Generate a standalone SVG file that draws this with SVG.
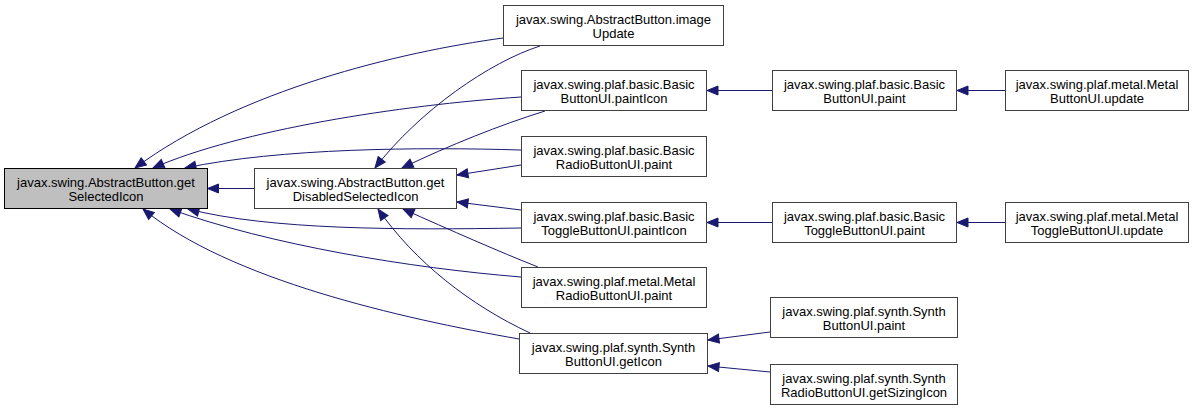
<svg xmlns="http://www.w3.org/2000/svg" width="1195" height="411" viewBox="0 0 1195 411">
<style>
.n rect{fill:#fff;stroke:#404040;stroke-width:1}
.n text{font-family:"Liberation Sans",Arial,sans-serif;font-size:13px;fill:#000;text-anchor:middle}
#A rect{fill:#bfbfbf;stroke:#000}
.e path{fill:none;stroke:#191970;stroke-width:1;marker-end:url(#ah)}
</style>
<defs>
<marker id="ah" markerUnits="userSpaceOnUse" markerWidth="13" markerHeight="11" viewBox="-1 -1 13 11" refX="11" refY="4.5" orient="auto">
<path d="M0,0 L11,4.5 L0,9 z" fill="#191970" stroke="#191970" stroke-width="1"/>
</marker>
</defs>
<g id="edges" class="e">
<path d="M254,188.5 L207.5,188.5"/>
<path d="M503,38 C400,52 240,90 135,168"/>
<path d="M521,97 C400,105 240,130 153,168"/>
<path d="M521,150 C420,147 280,148 185,168"/>
<path d="M540,46 C490,62 420,110 375,168"/>
<path d="M545,111 C500,125 450,145 402,168"/>
<path d="M521,165 L457,175"/>
<path d="M521,228 C400,230 270,230 188,209"/>
<path d="M521,210 L457,202"/>
<path d="M521,277 C410,268 270,245 170,209"/>
<path d="M538,267 C500,252 450,230 403,209"/>
<path d="M519,339 C400,318 230,280 143,209"/>
<path d="M530,333 C470,305 415,262 378,209"/>
<path d="M772,90.5 L707,90.5"/>
<path d="M1005,90.5 L957,90.5"/>
<path d="M772,222.5 L707,222.5"/>
<path d="M1005,222.5 L957,222.5"/>
<path d="M770,332 L708,340"/>
<path d="M770,372 L708,366"/>
</g>
<g id="A" class="n"><rect x="4.5" y="168.5" width="203" height="40"/><text x="106" y="186.5">javax.swing.AbstractButton.get</text><text x="106" y="200.5">SelectedIcon</text></g>
<g id="B" class="n"><rect x="254.5" y="168.5" width="202" height="40"/><text x="355.5" y="186.5">javax.swing.AbstractButton.get</text><text x="355.5" y="200.5">DisabledSelectedIcon</text></g>
<g id="N1" class="n"><rect x="503.5" y="5.5" width="220" height="40"/><text x="613.5" y="23.5">javax.swing.AbstractButton.image</text><text x="613.5" y="37.5">Update</text></g>
<g id="N2" class="n"><rect x="521.5" y="70.5" width="185" height="40"/><text x="614" y="88.5">javax.swing.plaf.basic.Basic</text><text x="614" y="102.5">ButtonUI.paintIcon</text></g>
<g id="N3" class="n"><rect x="521.5" y="136.5" width="185" height="40"/><text x="614" y="154.5">javax.swing.plaf.basic.Basic</text><text x="614" y="168.5">RadioButtonUI.paint</text></g>
<g id="N4" class="n"><rect x="521.5" y="202.5" width="185" height="40"/><text x="614" y="220.5">javax.swing.plaf.basic.Basic</text><text x="614" y="234.5">ToggleButtonUI.paintIcon</text></g>
<g id="N5" class="n"><rect x="521.5" y="267.5" width="185" height="40"/><text x="614" y="285.5">javax.swing.plaf.metal.Metal</text><text x="614" y="299.5">RadioButtonUI.paint</text></g>
<g id="N6" class="n"><rect x="519.5" y="333.5" width="188" height="40"/><text x="613.5" y="351.5">javax.swing.plaf.synth.Synth</text><text x="613.5" y="365.5">ButtonUI.getIcon</text></g>
<g id="N7" class="n"><rect x="772.5" y="70.5" width="184" height="40"/><text x="864.5" y="88.5">javax.swing.plaf.basic.Basic</text><text x="864.5" y="102.5">ButtonUI.paint</text></g>
<g id="N8" class="n"><rect x="1005.5" y="70.5" width="183" height="40"/><text x="1097" y="88.5">javax.swing.plaf.metal.Metal</text><text x="1097" y="102.5">ButtonUI.update</text></g>
<g id="N9" class="n"><rect x="772.5" y="202.5" width="184" height="40"/><text x="864.5" y="220.5">javax.swing.plaf.basic.Basic</text><text x="864.5" y="234.5">ToggleButtonUI.paint</text></g>
<g id="N10" class="n"><rect x="1005.5" y="202.5" width="183" height="40"/><text x="1097" y="220.5">javax.swing.plaf.metal.Metal</text><text x="1097" y="234.5">ToggleButtonUI.update</text></g>
<g id="N11" class="n"><rect x="770.5" y="297.5" width="187" height="40"/><text x="864" y="315.5">javax.swing.plaf.synth.Synth</text><text x="864" y="329.5">ButtonUI.paint</text></g>
<g id="N12" class="n"><rect x="770.5" y="364.5" width="187" height="40"/><text x="864" y="382.5">javax.swing.plaf.synth.Synth</text><text x="864" y="396.5">RadioButtonUI.getSizingIcon</text></g>
</svg>
